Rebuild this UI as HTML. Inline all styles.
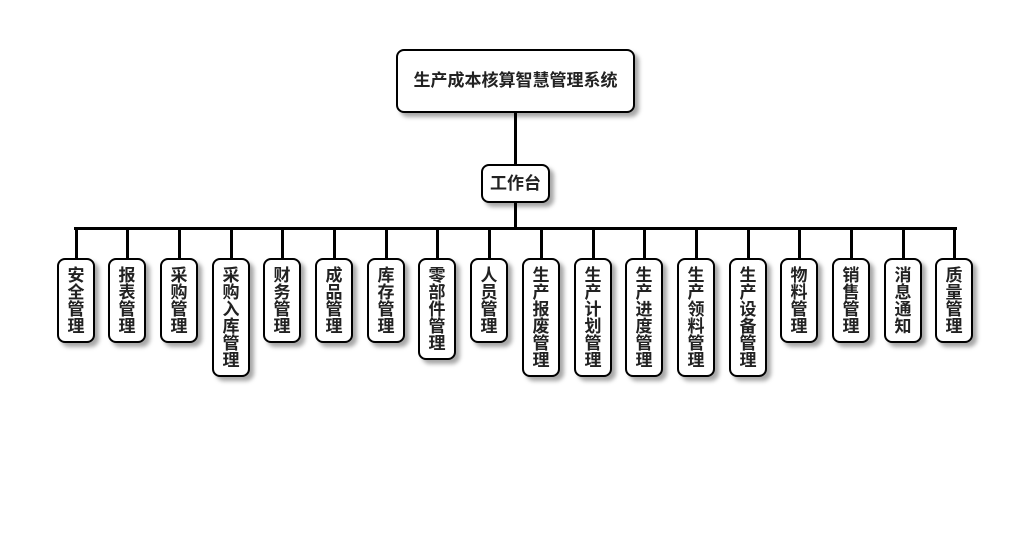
<!DOCTYPE html>
<html><head><meta charset="utf-8"><style>
body{margin:0;width:1030px;height:560px;background:#fff;position:relative;overflow:hidden;font-family:"Liberation Sans","Noto Sans CJK SC",sans-serif;font-weight:bold;color:#222}
.b{position:absolute;border:2px solid #000;background:#fff;border-radius:8px;box-shadow:4px 4px 4px rgba(0,0,0,.35);box-sizing:border-box}
.l{position:absolute;background:#000}
.c{width:38px;top:258px;font-size:17px;line-height:17px;text-align:center;padding-top:7px}
</style></head><body>
<div class="l" style="left:514px;top:112px;width:3px;height:52px"></div>
<div class="l" style="left:514px;top:202px;width:3px;height:28px"></div>
<div class="l" style="left:74px;top:227px;width:883px;height:3px"></div>
<div class="b" style="left:396px;top:49px;width:239px;height:64px;font-size:17px;line-height:60px;text-align:center">生产成本核算智慧管理系统</div>
<div class="b" style="left:481px;top:164px;width:69px;height:39px;font-size:17px;line-height:35px;text-align:center">工作台</div>
<div id="kids"></div>
<script>
var n=["安全管理","报表管理","采购管理","采购入库管理","财务管理","成品管理","库存管理","零部件管理","人员管理","生产报废管理","生产计划管理","生产进度管理","生产领料管理","生产设备管理","物料管理","销售管理","消息通知","质量管理"];
var h="";
n.forEach(function(t,i){var cx=Math.round(75.5+51.7*i);var H=17*t.length+17;
h+='<div class="l" style="left:'+(cx-1)+'px;top:228px;width:3px;height:31px"></div>';
h+='<div class="b c" style="left:'+(cx-19)+'px;height:'+H+'px">'+t.split("").join("<br>")+'</div>';});
document.getElementById("kids").innerHTML=h;
</script>
</body></html>
